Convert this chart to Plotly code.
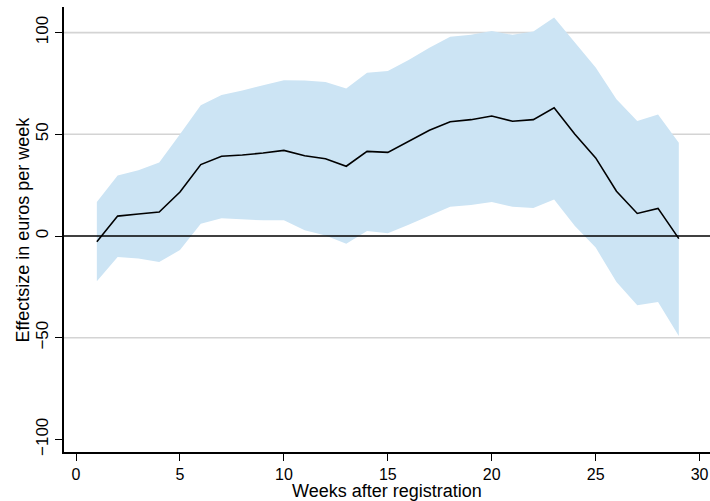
import plotly.graph_objects as go

weeks = list(range(1, 30))
effect = [-2.8, 9.8, 10.8, 11.8, 21.6, 35.1, 39.2, 39.8, 40.8, 42.1, 39.5, 38.0, 34.3, 41.6, 41.1,
          46.4, 52.0, 56.2, 57.2, 59.0, 56.4, 57.2, 63.0, 50.0, 38.4, 22.0, 11.1, 13.6, -1.3]
upper = [16.7, 29.8, 32.3, 36.1, 50.0, 64.3, 69.3, 71.5, 74.1, 76.6, 76.4, 75.7, 72.5, 80.3, 81.1,
         86.5, 92.6, 98.0, 98.9, 100.8, 98.9, 100.5, 107.4, 95.1, 82.8, 67.2, 56.6, 59.8, 45.9]
lower = [-22.3, -10.3, -11.0, -12.8, -6.9, 6.0, 8.7, 8.2, 7.7, 7.7, 2.8, 0.3, -3.8, 2.5, 1.3,
         5.5, 10.0, 14.4, 15.2, 16.7, 14.4, 13.8, 18.0, 4.9, -5.7, -22.6, -34.1, -32.5, -49.2]

x_ticks = [0, 5, 10, 15, 20, 25, 30]
y_ticks = [-100, -50, 0, 50, 100]
grid_values = [-50, 50, 100]
zero_value = 0
x_title = "Weeks after registration"
y_title = "Effectsize in euros per week"

band_color = "rgb(204,228,244)"
font_family = "Liberation Sans, Arial, Helvetica, sans-serif"

fig = go.Figure()
fig.add_trace(go.Scatter(x=weeks, y=upper, mode="lines", line=dict(width=0, color=band_color),
                         showlegend=False, hoverinfo="skip"))
fig.add_trace(go.Scatter(x=weeks, y=lower, mode="lines", line=dict(width=0, color=band_color),
                         fill="tonexty", fillcolor=band_color, showlegend=False, hoverinfo="skip"))
fig.add_trace(go.Scatter(x=weeks, y=effect, mode="lines", line=dict(width=1.6, color="black"),
                         showlegend=False))

shapes = []
for g in grid_values:
    shapes.append(dict(type="line", xref="paper", yref="y", x0=0, x1=1, y0=g, y1=g,
                       line=dict(color="rgb(212,212,212)", width=1.6), layer="below"))
shapes.append(dict(type="line", xref="paper", yref="y", x0=0, x1=1, y0=zero_value, y1=zero_value,
                   line=dict(color="black", width=1.6), layer="above"))

annotations = [
    dict(text=x_title, xref="paper", yref="paper", x=0.5, y=0, xanchor="center", yanchor="middle",
         yshift=-39, showarrow=False, font=dict(size=18)),
    dict(text=y_title, xref="paper", yref="paper", x=0, y=0.5, xanchor="center", yanchor="middle",
         xshift=-42, textangle=-90, showarrow=False, font=dict(size=18)),
]

fig.update_layout(
    width=710, height=501,
    margin=dict(l=64, r=0, t=7, b=49, autoexpand=False),
    paper_bgcolor="white", plot_bgcolor="white",
    font=dict(family=font_family, size=16, color="black"),
    shapes=shapes,
    annotations=annotations,
    xaxis=dict(range=[-0.58, 30.5], tickvals=x_ticks, showgrid=False, zeroline=False,
               showline=True, linecolor="black", linewidth=1.5, automargin=False,
               ticks="outside", ticklen=7, tickwidth=1.3, tickcolor="black",
               tickfont=dict(size=16)),
    yaxis=dict(range=[-106.2, 112.6], tickvals=y_ticks, showgrid=False, zeroline=False,
               showline=True, linecolor="black", linewidth=1.5, automargin=False,
               ticks="outside", ticklen=7, tickwidth=1.3, tickcolor="black",
               tickangle=-90, tickfont=dict(size=17)),
)

fig.write_html("out.html", config={"displayModeBar": False},
               post_script="document.body.style.margin='0';document.body.style.overflow='hidden';")
